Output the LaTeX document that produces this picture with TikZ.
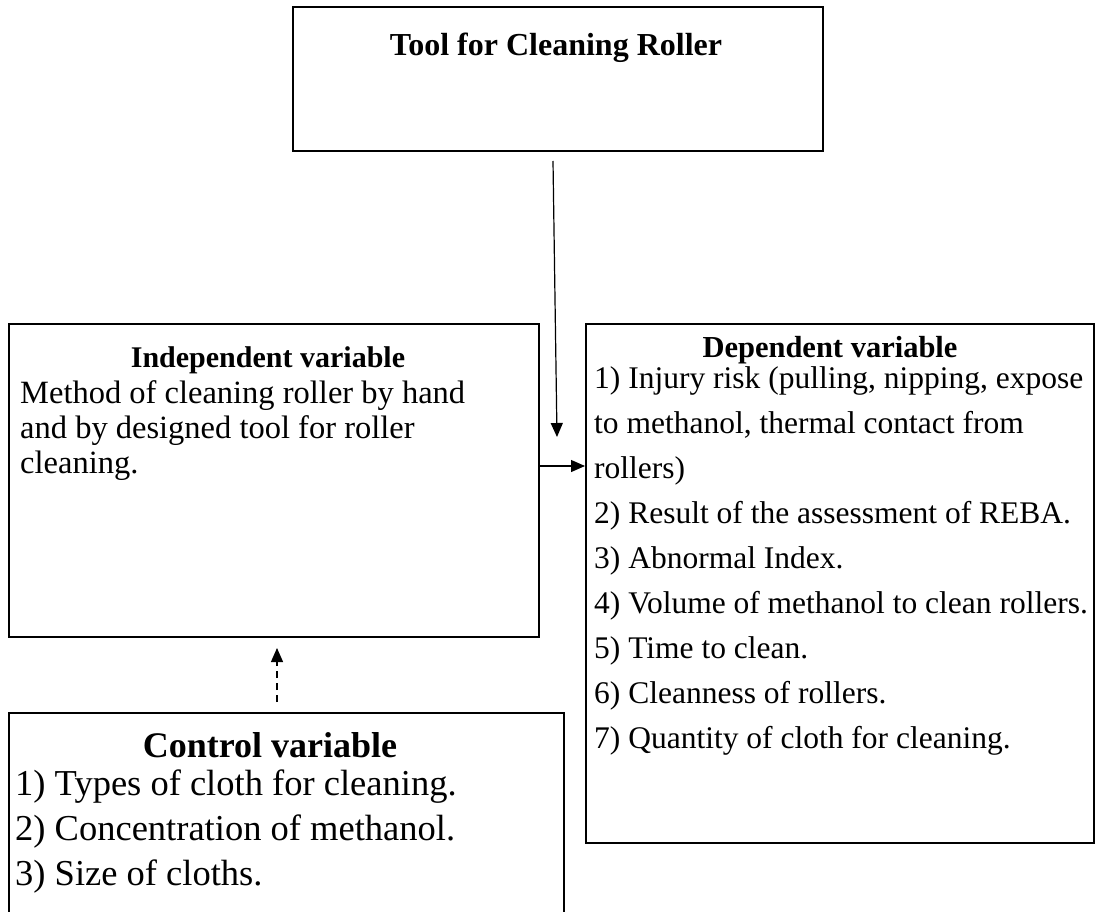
\documentclass[tikz,border=0pt]{standalone}
\usepackage{fontspec}
\setmainfont{Liberation Serif}
\usetikzlibrary{arrows.meta}
\begin{document}
\begin{tikzpicture}[x=1pt,y=-1pt,
  box/.style={draw, line width=1.6pt, rectangle, inner sep=0pt, anchor=north west},
  head/.style={inner sep=0pt, anchor=base, font=\fontsize{#1}{#1}\selectfont\bfseries},
  txt/.style={inner sep=0pt, anchor=base west, font=\fontsize{#1}{#1}\selectfont},
  link/.style={line width=1.2pt, -{Triangle[length=14pt,width=12pt]}},
  dlink/.style={link, dash pattern=on 7pt off 5pt}]
\useasboundingbox (0,0) rectangle (1095,912);
\clip (0,0) rectangle (1095,912);

% boxes
\node[box, minimum width=530pt, minimum height=144pt] (tool) at (292,6) {};
\node[box, minimum width=530pt, minimum height=313pt] (indep) at (8,323) {};
\node[box, minimum width=508pt, minimum height=519pt] (dep) at (585,323) {};
\node[box, minimum width=555pt, minimum height=260pt] (ctrl) at (8,712) {};

% tool box
\node[head=32] (toolT) at (556,56) {Tool for Cleaning Roller};

% independent variable
\node[head=30] (indepT) at (268,367) {Independent variable};
\node[txt=32.5] (indep1) at (20,403) {Method of cleaning roller by hand};
\node[txt=32.5] (indep2) at (20,438) {and by designed tool for roller};
\node[txt=32.5] (indep3) at (20,473) {cleaning.};

% dependent variable
\node[head=30.5] (depT) at (830,357) {Dependent variable};
\node[txt=31.5] (dep1)  at (594,388) {1) Injury risk (pulling, nipping, expose};
\node[txt=31.5] (dep1b) at (594,433) {to methanol, thermal contact from};
\node[txt=31.5] (dep1c) at (594,478) {rollers)};
\node[txt=31.5] (dep2)  at (594,523) {2) Result of the assessment of REBA.};
\node[txt=31.5] (dep3)  at (594,568) {3) Abnormal Index.};
\node[txt=31.5] (dep4)  at (594,613) {4) Volume of methanol to clean rollers.};
\node[txt=31.5] (dep5)  at (594,658) {5) Time to clean.};
\node[txt=31.5] (dep6)  at (594,703) {6) Cleanness of rollers.};
\node[txt=31.5] (dep7)  at (594,748) {7) Quantity of cloth for cleaning.};

% control variable
\node[head=36] (ctrlT) at (270,757) {Control variable};
\node[txt=36.5] (ctrl1) at (15,795) {1) Types of cloth for cleaning.};
\node[txt=36.5] (ctrl2) at (15,840) {2) Concentration of methanol.};
\node[txt=36.5] (ctrl3) at (15,885) {3) Size of cloths.};

% connectors
\coordinate (toolOut) at (553,161);
\coordinate (toolIn) at (557,437);
\draw[link] (toolOut) -- (toolIn);
\draw[link] (indep.east |- 0,466) -- (dep.west |- 0,466);
\coordinate (ctrlOut) at (277,702);
\coordinate (indepIn) at (277,648);
\draw[dlink] (ctrlOut) -- (indepIn);
\end{tikzpicture}
\end{document}
